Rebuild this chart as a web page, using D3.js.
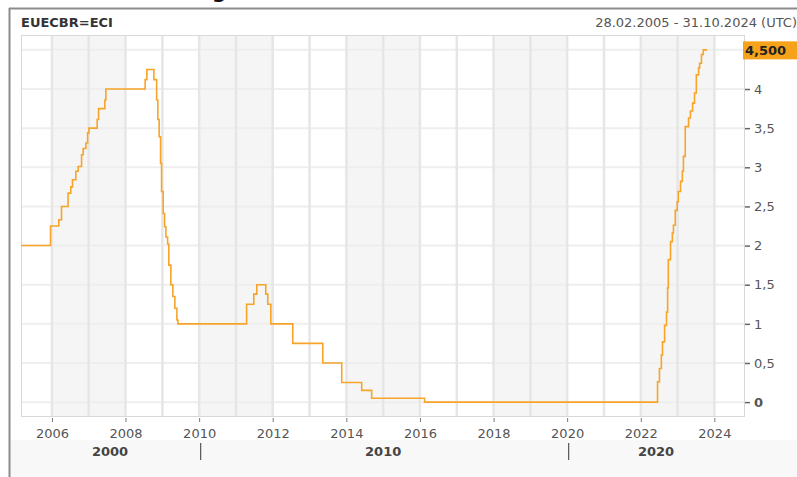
<!DOCTYPE html>
<html>
<head>
<meta charset="utf-8">
<script src="https://cdn.jsdelivr.net/npm/d3@7"></script>
<style>
  body { margin: 0; background: #fff; }
  svg { display: block; font-family: "DejaVu Sans", sans-serif; }
</style>
</head>
<body>
<svg id="chart" width="797" height="477"></svg>
<script>
// series (step points)
var dates = ["2005-02-28", "2005-12-18", "2006-03-10", "2006-04-06", "2006-06-10", "2006-07-07", "2006-07-24",
    "2006-08-26", "2006-09-18", "2006-10-22", "2006-11-07", "2006-12-04", "2006-12-21", "2007-01-03",
    "2007-03-26", "2007-04-09", "2007-06-10", "2007-06-20", "2008-07-14", "2008-07-31", "2008-10-09",
    "2008-11-05", "2008-11-17", "2008-11-30", "2008-12-14", "2008-12-24", "2009-01-09", "2009-01-23",
    "2009-02-05", "2009-02-22", "2009-03-06", "2009-03-26", "2009-04-15", "2009-05-05", "2009-05-25",
    "2009-06-04", "2011-04-17", "2011-06-27", "2011-07-27", "2011-10-24", "2011-11-13", "2011-12-13",
    "2012-07-18", "2013-05-12", "2013-11-16", "2014-06-02", "2014-09-09", "2016-02-16", "2022-06-16",
    "2022-07-05", "2022-07-24", "2022-08-04", "2022-08-25", "2022-09-13", "2022-09-24", "2022-10-01",
    "2022-10-23", "2022-11-10", "2022-11-21", "2022-12-09", "2022-12-28", "2023-01-08", "2023-01-30",
    "2023-02-17", "2023-02-28", "2023-03-18", "2023-04-20", "2023-05-08", "2023-05-30", "2023-06-18",
    "2023-07-06", "2023-07-28", "2023-08-08", "2023-08-26", "2023-09-13", "2023-10-23"];
var rates = [2.00, 2.25, 2.33, 2.50, 2.67, 2.75, 2.84,
    2.95, 3.01, 3.16, 3.24, 3.31, 3.44, 3.50,
    3.61, 3.75, 3.86, 4.00, 4.12, 4.25, 4.12,
    3.86, 3.61, 3.39, 3.05, 2.69, 2.41, 2.24,
    2.11, 2.02, 1.75, 1.50, 1.35, 1.20, 1.05,
    1.00, 1.25, 1.38, 1.50, 1.38, 1.25, 1.00,
    0.75, 0.50, 0.25, 0.15, 0.05, 0.00, 0.26,
    0.43, 0.60, 0.77, 0.98, 1.15, 1.46, 1.82,
    2.05, 2.16, 2.26, 2.45, 2.56, 2.69, 2.82,
    2.95, 3.14, 3.52, 3.63, 3.72, 3.82, 3.95,
    4.18, 4.27, 4.33, 4.44, 4.50, 4.50];
var yTicks = [0, 0.5, 1, 1.5, 2, 2.5, 3, 3.5, 4];
var gridValues = [0, 0.5, 1, 1.5, 2, 2.5, 3, 3.5, 4, 4.5];
var decades = ["2000", "2010", "2020"];
var rangeStart = "2005-02-28", rangeEnd = "2024-10-31";
var symbol = "EUECBR=ECI";
var lastLabel = "4,500";

var parse = d3.timeParse("%Y-%m-%d");
var data = dates.map(function (d, i) { return { date: parse(d), value: rates[i] }; });

var svg = d3.select("#chart");
var plotLeft = 21, plotRight = 745, plotTop = 35, plotBottom = 417;

var x = d3.scaleTime()
    .domain([parse(rangeStart), parse(rangeEnd)])
    .range([plotLeft, plotRight]);
var y = d3.scaleLinear()
    .domain([-0.19, 4.69])
    .range([plotBottom, plotTop]);

// outer frame
svg.append("rect").attr("x", 10).attr("y", 9).attr("width", 787).attr("height", 468).attr("fill", "#fff");
svg.append("rect").attr("x", 10).attr("y", 440).attr("width", 787).attr("height", 37).attr("fill", "#f8f8f8");
svg.append("line").attr("x1", 9.5).attr("x2", 9.5).attr("y1", 8).attr("y2", 477)
    .attr("stroke", "#8c8c8c").attr("stroke-width", 2);
svg.append("line").attr("x1", 9).attr("x2", 797).attr("y1", 8.5).attr("y2", 8.5)
    .attr("stroke", "#8c8c8c").attr("stroke-width", 2);
// clipped heading above the frame
svg.append("text").attr("x", 212).attr("y", -2)
    .attr("font-size", 20).attr("font-weight", "bold").attr("fill", "#111").text("g");

// header
svg.append("text").attr("x", 21).attr("y", 27)
    .attr("font-size", 13).attr("font-weight", "bold").attr("fill", "#333").text(symbol);
svg.append("text").attr("x", 797).attr("y", 27).attr("text-anchor", "end")
    .attr("font-size", 13).attr("fill", "#555")
    .text("28.02.2005 - 31.10.2024 (UTC)");

// plot background with alternating 2-year bands
svg.append("rect").attr("x", plotLeft).attr("y", plotTop)
    .attr("width", plotRight - plotLeft).attr("height", plotBottom - plotTop)
    .attr("fill", "#fff");
var bandYears = d3.timeYear.range(parse("2006-01-01"), parse("2024-01-01"), 4);
svg.append("g").selectAll("rect")
    .data(bandYears)
    .enter().append("rect")
    .attr("x", function (d) { return x(d); })
    .attr("y", plotTop)
    .attr("width", function (d) { return x(d3.timeYear.offset(d, 2)) - x(d); })
    .attr("height", plotBottom - plotTop)
    .attr("fill", "#f5f5f5");

// grid
svg.append("g").selectAll("line")
    .data(gridValues)
    .enter().append("line")
    .attr("x1", plotLeft).attr("x2", plotRight)
    .attr("y1", function (d) { return y(d); }).attr("y2", function (d) { return y(d); })
    .attr("stroke", "#eeeeee").attr("stroke-width", 2);
svg.append("g").selectAll("line")
    .data(x.ticks(d3.timeYear.every(1)))
    .enter().append("line")
    .attr("x1", function (d) { return x(d); }).attr("x2", function (d) { return x(d); })
    .attr("y1", plotTop).attr("y2", plotBottom)
    .attr("stroke", "#e6e6e6").attr("stroke-width", 2.5);

svg.append("rect").attr("x", plotLeft + 0.5).attr("y", plotTop + 0.5)
    .attr("width", plotRight - plotLeft - 1).attr("height", plotBottom - plotTop - 1)
    .attr("fill", "none").attr("stroke", "#d8d8d8");

// line
var line = d3.line()
    .curve(d3.curveStepAfter)
    .x(function (d) { return x(d.date); })
    .y(function (d) { return y(d.value); });
svg.append("path")
    .datum(data)
    .attr("fill", "none")
    .attr("stroke", "#f7a428")
    .attr("stroke-width", 1.6)
    .attr("d", line);

// x axis
var xAxis = svg.append("g")
    .attr("transform", "translate(0," + (plotBottom + 1) + ")")
    .call(d3.axisBottom(x)
        .ticks(d3.timeYear.every(2))
        .tickFormat(d3.timeFormat("%Y"))
        .tickSize(4)
        .tickPadding(7));
xAxis.select(".domain").remove();
xAxis.selectAll("line").attr("stroke", "#777");
xAxis.selectAll("text").attr("font-size", 13).attr("fill", "#555")
    .attr("font-family", "DejaVu Sans, sans-serif");

// decade row
var decadeEdges = [x.domain()[0], parse("2010-01-01"), parse("2020-01-01"), x.domain()[1]];
svg.append("g").selectAll("text")
    .data(decades)
    .enter().append("text")
    .attr("x", function (d, i) { return (x(decadeEdges[i]) + x(decadeEdges[i + 1])) / 2; })
    .attr("y", 456)
    .attr("text-anchor", "middle")
    .attr("font-size", 13).attr("font-weight", "bold").attr("fill", "#444")
    .text(function (d) { return d; });
svg.append("g").selectAll("line")
    .data(decadeEdges.slice(1, 3))
    .enter().append("line")
    .attr("x1", function (d) { return x(d) + 1.5; }).attr("x2", function (d) { return x(d) + 1.5; })
    .attr("y1", 443).attr("y2", 460)
    .attr("stroke", "#555").attr("stroke-width", 1.2);

// y axis on the right
var yAxis = svg.append("g")
    .attr("transform", "translate(" + plotRight + ",0)")
    .call(d3.axisRight(y)
        .tickValues(yTicks)
        .tickSize(5)
        .tickPadding(4)
        .tickFormat(function (d) { return String(d).replace(".", ","); }));
yAxis.select(".domain").remove();
yAxis.selectAll("line").attr("stroke", "#666").attr("stroke-width", 1.5);
yAxis.selectAll("text").attr("font-size", 13).attr("fill", "#555")
    .attr("font-family", "DejaVu Sans, sans-serif")
    .attr("font-weight", function (d) { return d === 0 ? "bold" : null; });

// last value marker
var last = data[data.length - 1];
svg.append("rect").attr("x", 743).attr("y", y(last.value) - 8.5)
    .attr("width", 54).attr("height", 18).attr("fill", "#f7a21b");
svg.append("text").attr("x", 745).attr("y", y(last.value) + 5)
    .attr("font-size", 13).attr("font-weight", "bold").attr("fill", "#222")
    .text(lastLabel);
</script>
</body>
</html>
